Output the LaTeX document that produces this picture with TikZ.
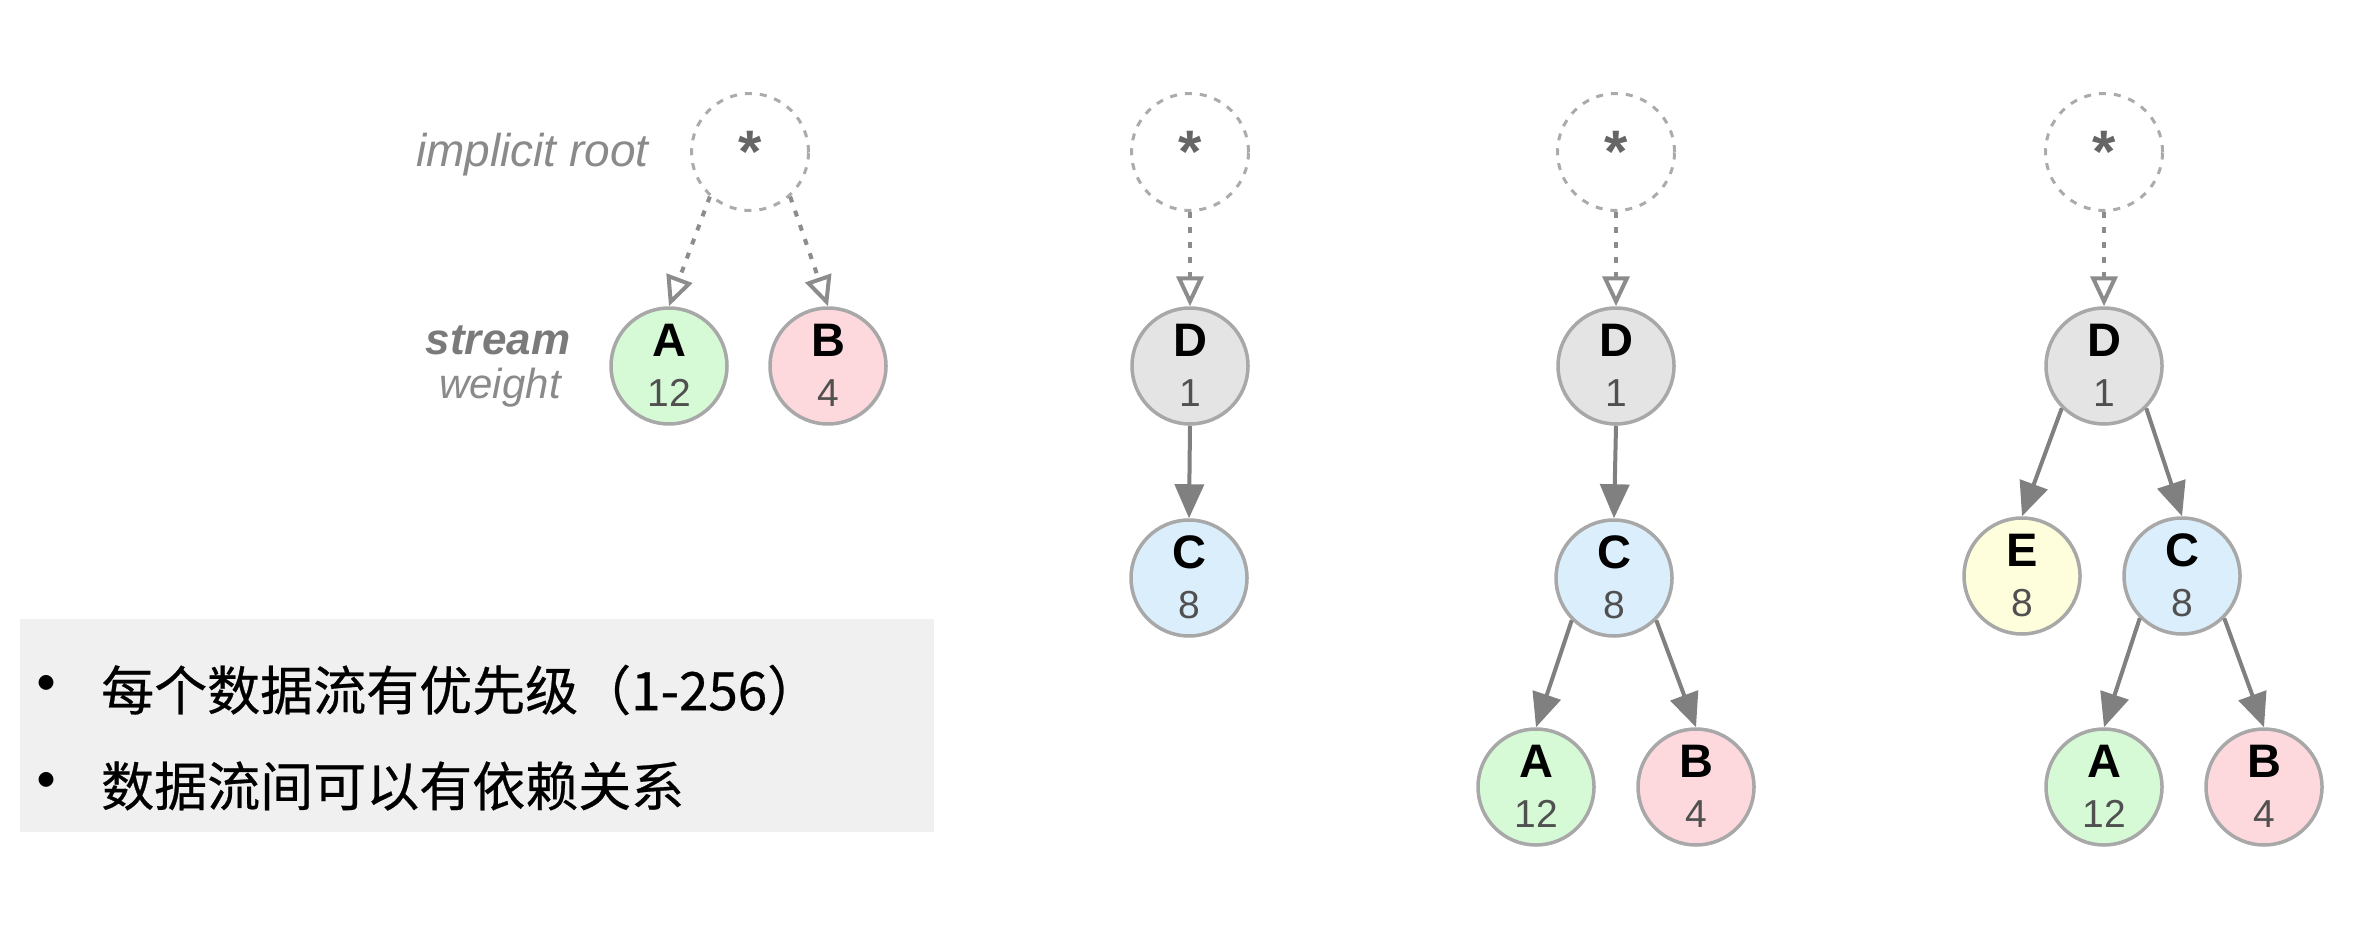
\documentclass[tikz,border=0pt]{standalone}
\usepackage{fontspec}
\setmainfont{Liberation Sans}
\newfontfamily\cjk[FakeBold=0.5]{Noto Sans CJK SC}
\newfontfamily\cjkdot{Noto Sans CJK SC}
\usetikzlibrary{arrows.meta,calc}
\definecolor{bordergray}{HTML}{A8A8A8}
\definecolor{rootgray}{HTML}{ABABAB}
\definecolor{arrowgray}{HTML}{808080}
\definecolor{dotgray}{HTML}{8C8C8C}
\definecolor{numgray}{HTML}{505050}
\definecolor{stargray}{HTML}{666666}
\definecolor{lblgray}{HTML}{8A8A8A}
\definecolor{streamgray}{HTML}{7A7A7A}
\definecolor{boxgray}{HTML}{F0F0F0}
\definecolor{fillA}{HTML}{D5FAD5}
\definecolor{fillB}{HTML}{FDD9DE}
\definecolor{fillC}{HTML}{DAEEFB}
\definecolor{fillD}{HTML}{E4E4E4}
\definecolor{fillE}{HTML}{FEFEDC}
\newcommand\streamnode[5]{%
  \node[snode, fill=#3] (#1) at (#2) {};
  \node[letterlbl] (#1l) at ($(#1)+(0,-26)$) {#4};
  \node[numlbl] (#1n) at ($(#1)+(0,27)$) {#5};}
\begin{document}
\begin{tikzpicture}[x=1pt,y=-1pt,
  snode/.style={circle, draw=bordergray, line width=3.5pt, minimum size=116pt, inner sep=0pt},
  rootnode/.style={circle, draw=rootgray, line width=3pt, dash pattern=on 7pt off 8pt,
    minimum size=117pt, inner sep=0pt, text=stargray,
    font=\fontsize{60}{60}\selectfont\bfseries},
  letterlbl/.style={font=\fontsize{47}{50}\selectfont\bfseries, text=black, inner sep=0pt},
  numlbl/.style={font=\fontsize{39}{42}\selectfont, text=numgray, inner sep=0pt},
  dep/.style={draw=arrowgray, line width=4pt, -{Triangle[length=34pt,width=29pt]}},
  rootdep/.style={draw=dotgray, line width=4pt, dash pattern=on 6pt off 9pt,
    -{Triangle[open,length=30pt,width=27pt]}},
  txt/.style={inner sep=0pt, font=\cjk\fontsize{53}{60}\selectfont, text=black},
  dot/.style={inner sep=0pt, font=\cjkdot\fontsize{70}{70}\selectfont, text=black},
]
\useasboundingbox (0,0) rectangle (2368,936);
% text panel
\fill[boxgray] (20,619) rectangle (934,832);
\node[dot] (b1) at (47,692) {•};
\node[txt, anchor=west] (t1) at (101,690) {每个数据流有优先级（1-256）};
\node[dot] (b2) at (47,789) {•};
\node[txt, anchor=west] (t2) at (101,786) {数据流间可以有依赖关系};
% side labels
\node[font=\fontsize{46}{50}\selectfont\itshape, text=lblgray, anchor=east, inner sep=0pt] (lroot) at (649,155) {implicit root};
\node[font=\fontsize{44}{48}\selectfont\bfseries\itshape, text=streamgray, inner sep=0pt] (lstream) at (498,340) {stream};
\node[font=\fontsize{42}{46}\selectfont\itshape, text=lblgray, inner sep=0pt] (lweight) at (500,388) {weight};
% tree 1
\node[rootnode] (r1) at (750,152) {*};
\streamnode{a1}{669,366}{fillA}{A}{12}
\streamnode{b1n}{828,366}{fillB}{B}{4}
\draw[rootdep] (r1.228) -- (a1.north);
\draw[rootdep] (r1.312) -- (b1n.north);
% tree 2
\node[rootnode] (r2) at (1190,152) {*};
\streamnode{d2}{1190,366}{fillD}{D}{1}
\streamnode{c2}{1189,578}{fillC}{C}{8}
\draw[rootdep] (r2.south) -- (d2.north);
\draw[dep] (d2.south) -- (c2.north);
% tree 3
\node[rootnode] (r3) at (1616,152) {*};
\streamnode{d3}{1616,366}{fillD}{D}{1}
\streamnode{c3}{1614,578}{fillC}{C}{8}
\streamnode{a3}{1536,787}{fillA}{A}{12}
\streamnode{b3}{1696,787}{fillB}{B}{4}
\draw[rootdep] (r3.south) -- (d3.north);
\draw[dep] (d3.south) -- (c3.north);
\draw[dep] (c3.225) -- (a3.north);
\draw[dep] (c3.315) -- (b3.north);
% tree 4
\node[rootnode] (r4) at (2104,152) {*};
\streamnode{d4}{2104,366}{fillD}{D}{1}
\streamnode{e4}{2022,576}{fillE}{E}{8}
\streamnode{c4}{2182,576}{fillC}{C}{8}
\streamnode{a4}{2104,787}{fillA}{A}{12}
\streamnode{b4}{2264,787}{fillB}{B}{4}
\draw[rootdep] (r4.south) -- (d4.north);
\draw[dep] (d4.225) -- (e4.north);
\draw[dep] (d4.315) -- (c4.north);
\draw[dep] (c4.225) -- (a4.north);
\draw[dep] (c4.315) -- (b4.north);
\end{tikzpicture}
\end{document}
